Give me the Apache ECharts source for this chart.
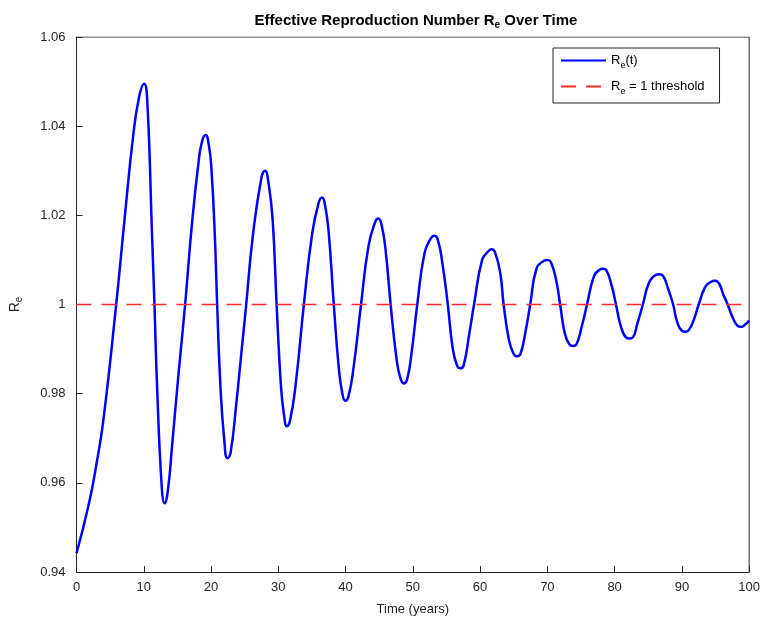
<!DOCTYPE html>
<html>
<head>
<meta charset="utf-8">
<script src="https://cdn.jsdelivr.net/npm/echarts@6/dist/echarts.min.js"></script>
<style>
html,body{margin:0;padding:0;background:#fff;}
#chart{width:763px;height:623px;}
</style>
</head>
<body>
<div id="chart"></div>
<script>
// Time points (years)
const timeYears = [
  0, 1.86, 3.0, 4.0, 5.9, 7.17, 8.4, 9.3, 10.05, 10.5,
  11.24, 11.59, 11.98, 12.7, 13.1, 13.6,
  14.19, 15.17, 16.15, 17.13, 18.11, 18.65, 19.19, 19.7,
  20.07, 20.57, 20.91, 21.4, 22.0, 22.43, 22.9,
  23.76, 24.5, 25.23, 26.2, 27.5, 28.03, 28.55,
  29.16, 29.75, 30.4, 30.85, 31.27, 31.75,
  32.6, 33.8, 35.05, 36.0, 36.5, 37.0,
  37.5, 38.25, 38.98, 39.5, 39.96, 40.45,
  41.2, 42.3, 43.4, 44.4, 44.88, 45.35,
  45.95, 46.7, 47.6, 48.15, 48.65, 49.15,
  49.8, 50.66, 51.74, 52.7, 53.2, 53.7,
  54.4, 55.2, 55.9, 56.55, 57.04, 57.55,
  58.4, 59.1, 60.3, 61.2, 61.7, 62.2,
  63.0, 63.5, 64.3, 65.0, 65.5, 66.0,
  66.7, 67.45, 68.4, 69.5, 70.0, 70.5,
  71.3, 71.9, 72.6, 73.3, 73.8, 74.3,
  75.1, 75.9, 76.9, 77.75, 78.25, 78.75,
  79.6, 80.2, 80.95, 81.7, 82.2, 82.7,
  83.4, 84.2, 85.1, 86.1, 86.6, 87.1,
  88.0, 88.7, 89.3, 90.0, 90.5, 91.0,
  91.75, 92.5, 93.5, 94.35, 94.85, 95.35,
  96.2, 96.8, 97.6, 98.3, 98.8, 99.4, 100];
// Effective reproduction number values at those times
const reValues = [
  0.9442, 0.9554, 0.9645, 0.9741, 1.0, 1.0195, 1.0375, 1.0465, 1.0495, 1.0462,
  1.0152, 1.0, 0.9816, 0.9585, 0.9554, 0.9585,
  0.968, 0.9845, 1.0, 1.0175, 1.0315, 1.0365, 1.038, 1.0355,
  1.0302, 1.0152, 1.0, 0.9816, 0.969, 0.9655, 0.9667,
  0.9778, 0.989, 1.0, 1.0152, 1.0285, 1.030, 1.0272,
  1.019, 1.0, 0.9816, 0.9752, 0.9727, 0.9740,
  0.9823, 1.0, 1.016, 1.0228, 1.024, 1.0218,
  1.016, 1.0, 0.986, 0.9802, 0.9784, 0.9795,
  0.986, 1.0, 1.013, 1.0185, 1.0193, 1.0179,
  1.0122, 1.0, 0.9876, 0.9835, 0.9823, 0.9832,
  0.989, 1.0, 1.0115, 1.0149, 1.0154, 1.0146,
  1.0092, 1.0, 0.9905, 0.9864, 0.9857, 0.9863,
  0.9935, 1.0, 1.010, 1.0119, 1.0124, 1.0118,
  1.007, 1.0, 0.992, 0.9889, 0.9884, 0.9889,
  0.9935, 1.0, 1.0081, 1.0098, 1.0100, 1.0096,
  1.0055, 1.0, 0.9935, 0.991, 0.9907, 0.991,
  0.995, 1.0, 1.0062, 1.0078, 1.008, 1.0077,
  1.004, 1.0, 0.995, 0.9926, 0.9924, 0.9926,
  0.9958, 1.0, 1.0048, 1.0066, 1.0068, 1.0066,
  1.0033, 1.0, 0.9961, 0.9941, 0.9939, 0.9942,
  0.9965, 1.0, 1.004, 1.0051, 1.0053, 1.0051,
  1.0021, 1.0, 0.9969, 0.9952, 0.995, 0.9955, 0.9964];
const thresholdTimes = [0, 100];
const thresholdValues = [1, 1];
const xTicks = [0, 10, 20, 30, 40, 50, 60, 70, 80, 90, 100];
const yTicks = [0.94, 0.96, 0.98, 1, 1.02, 1.04, 1.06];

const chart = echarts.init(document.getElementById('chart'));
const axisColor = '#262626';
const font = 'Liberation Sans, Arial, Helvetica, sans-serif';

const reSeries = timeYears.map((t, i) => [t, reValues[i]]);
const thrSeries = thresholdTimes.map((t, i) => [t, thresholdValues[i]]);

const commonAxis = {
  axisLine: {show: true, onZero: false, lineStyle: {color: axisColor, width: 1}},
  axisTick: {show: true, inside: true, length: 6, lineStyle: {color: axisColor}},
  splitLine: {show: false}
};

chart.setOption({
  animation: false,
  backgroundColor: '#fff',
  title: {
    text: '{a|Effective Reproduction Number R}{s|e}{a| Over Time}',
    left: 411, textAlign: 'center', top: 6,
    textStyle: {
      rich: {
        a: {fontFamily: font, fontSize: 15, fontWeight: 'bold', color: '#000'},
        s: {fontFamily: font, fontSize: 10, fontWeight: 'bold', color: '#000', padding: [9, 0, 0, 0]}
      }
    }
  },
  grid: {left: 72, right: 12, top: 37, bottom: 51, containLabel: false},
  legend: {
    orient: 'vertical',
    left: 553, top: 48,
    backgroundColor: '#fff',
    borderColor: axisColor, borderWidth: 1,
    padding: [6, 15, 7, 7],
    itemGap: 10,
    itemWidth: 45, itemHeight: 14,
    itemStyle: {opacity: 0},
    data: ['Re(t)', 'Re = 1 threshold'],
    formatter: function (name) {
      return name === 'Re(t)' ? '{a|R}{s|e}{a|(t)}' : '{a|R}{s|e}{a| = 1 threshold}';
    },
    textStyle: {
      rich: {
        a: {fontFamily: font, fontSize: 13, color: '#000'},
        s: {fontFamily: font, fontSize: 9, color: '#000', padding: [10, 0, 0, 0]}
      }
    }
  },
  xAxis: Object.assign({}, commonAxis, {
    type: 'value', min: xTicks[0], max: xTicks[xTicks.length - 1], interval: 10,
    name: 'Time (years)', nameLocation: 'middle', nameGap: 31,
    nameTextStyle: {fontFamily: font, fontSize: 13, color: axisColor},
    axisLabel: {fontFamily: font, fontSize: 13, color: axisColor, margin: 9}
  }),
  yAxis: Object.assign({}, commonAxis, {
    type: 'value', min: yTicks[0], max: yTicks[yTicks.length - 1], interval: 0.02,
    name: '{a|R}{s|e}', nameLocation: 'middle', nameGap: 52, nameRotate: 90,
    nameTextStyle: {
      rich: {
        a: {fontFamily: font, fontSize: 14, color: axisColor},
        s: {fontFamily: font, fontSize: 10, color: axisColor, padding: [9, 0, 0, 0]}
      }
    },
    axisLabel: {fontFamily: font, fontSize: 13, color: axisColor, margin: 11,
      formatter: v => String(parseFloat(v.toFixed(2)))}
  }),
  series: [
    {
      name: 'Re(t)', type: 'line', data: reSeries, smooth: 0.5,
      showSymbol: false, symbol: 'none',
      lineStyle: {color: '#0000ff', width: 2.5}, itemStyle: {color: '#0000ff'}, z: 3
    },
    {
      name: 'Re = 1 threshold', type: 'line', data: thrSeries,
      showSymbol: false, symbol: 'none',
      lineStyle: {color: '#ff2a2a', width: 1.6, type: [15, 10]}, itemStyle: {color: '#ff2a2a'}, z: 4
    },
    {
      // top and right frame edges
      type: 'line', data: [[0, 1.06], [100, 1.06], [100, 0.94]], silent: true,
      showSymbol: false, symbol: 'none', lineStyle: {color: axisColor, width: 1}, z: 1
    }
  ]
});
</script>
</body>
</html>
